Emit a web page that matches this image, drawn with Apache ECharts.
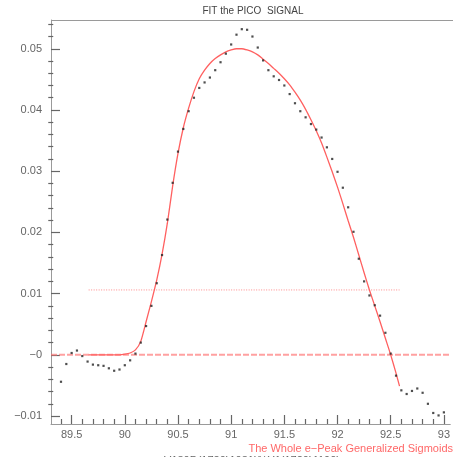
<!DOCTYPE html>
<html>
<head>
<meta charset="utf-8">
<script src="https://cdn.jsdelivr.net/npm/echarts@6/dist/echarts.min.js"></script>
<style>html,body{margin:0;padding:0;background:#fff;}#c{width:453px;height:457px;}</style>
</head>
<body>
<div id="c"></div>
<script>
// measured points (x in 0.05 steps)
const pointX = [89.40,89.45,89.50,89.55,89.60,89.65,89.70,89.75,89.80,89.85,89.90,89.95,90.00,90.05,90.10,90.15,
  90.20,90.25,90.30,90.35,90.40,90.45,90.50,90.55,90.60,90.65,90.70,90.75,90.80,90.85,90.90,90.95,91.00,91.05,91.10,91.15,
  91.20,91.25,91.30,91.35,91.40,91.45,91.50,91.55,91.60,91.65,91.70,91.75,91.80,91.85,91.90,91.95,92.00,
  92.05,92.10,92.15,92.20,92.25,92.30,92.35,92.40,92.45,92.50,92.55,92.60,92.65,92.70,92.75,92.80,92.85,92.90,92.95,93.00];
const pointY = [-0.0044,-0.0015,0.0003,0.0007,-0.0002,-0.0011,-0.0016,-0.0017,-0.0018,-0.0022,-0.0026,-0.0024,-0.0017,-0.0009,0.0002,0.0020,
  0.0047,0.0080,0.0117,0.0163,0.0221,0.0281,0.0332,0.0369,0.0398,0.0420,0.0436,0.0445,0.0453,0.0465,0.0478,0.0492,0.0507,0.0523,0.0532,0.0531,
  0.0520,0.0502,0.0481,0.0465,0.0455,0.0449,0.0440,0.0426,0.0411,0.0398,0.0388,0.0377,0.0368,0.0355,0.0339,0.0320,0.0299,
  0.0273,0.0241,0.0201,0.0157,0.0120,0.0097,0.0081,0.0064,0.0036,0.0002,-0.0034,-0.0058,-0.0064,-0.0059,-0.0055,-0.0062,-0.0080,-0.0095,-0.0099,-0.0094];

// fit curve
const fitX = [89.66,89.75,89.85,89.95,90.00,90.05,90.10,90.15,90.20,90.25,90.30,90.35,90.40,90.45,90.50,90.55,90.60,90.65,90.70,90.75,90.80,90.85,90.90,90.95,91.00,91.05,91.10,91.15,91.20,91.25,91.30,91.35,91.40,91.45,91.50,91.55,91.60,91.65,91.70,91.75,91.80,91.85,91.90,91.95,92.00,92.05,92.10,92.15,92.20,92.25,92.30,92.35,92.40,92.45,92.50,92.55,92.583];
const fitY = [0.0000,0.0000,0.0000,0.0000,0.0001,0.0003,0.0008,0.0022,0.0054,0.0087,0.0122,0.0164,0.0215,0.0276,0.0329,0.0371,0.0403,0.0430,0.0451,0.0465,0.0476,0.0484,0.0490,0.0495,0.0498,0.0500,0.0500,0.0498,0.0495,0.0490,0.0483,0.0476,0.0468,0.0460,0.0451,0.0441,0.0429,0.0416,0.0401,0.0384,0.0366,0.0346,0.0323,0.0299,0.0274,0.0247,0.0219,0.0192,0.0163,0.0134,0.0106,0.0080,0.0054,0.0027,0.0000,-0.0030,-0.0051];

const levelX = [89.66, 92.583];
const levelY = [0.0106, 0.0106];
const zeroX = [89.306, 93.06];
const zeroY = [0, 0];

const xMajorTicks = [89.5,90,90.5,91,91.5,92,92.5,93];
const xMinorTicks = [89.4,89.6,89.7,89.8,89.9,90.1,90.2,90.3,90.4,90.6,90.7,90.8,90.9,91.1,91.2,91.3,91.4,91.6,91.7,91.8,91.9,92.1,92.2,92.3,92.4,92.6,92.7,92.8,92.9];
const yMajorTicks = [-0.01,0,0.01,0.02,0.03,0.04,0.05];
const yMinorTicks = [-0.008,-0.006,-0.004,-0.002,0.002,0.004,0.006,0.008,0.012,0.014,0.016,0.018,0.022,0.024,0.026,0.028,0.032,0.034,0.036,0.038,0.042,0.044,0.046,0.048,0.052,0.054];

const X_MIN = 89.306, X_MAX = 93.06, Y_MIN = -0.0113, Y_MAX = 0.0547;
const axisGrey = '#9a9a9a';
const tickGrey = '#666666';
const labelFont = {color:'#666', fontFamily:'Liberation Sans', fontSize:11};

function zip(a,b){ return a.map((v,i)=>[v,b[i]]); }
function yFmt(v){
  const r = Math.round(v*100)/100;
  if (r === 0) return '\u22120';
  if (r < 0) return '\u2212' + String(-r);
  return String(r);
}

const chart = echarts.init(document.getElementById('c'));
chart.setOption({
  animation:false,
  grid:{left:51, top:20, right:0, bottom:33},
  xAxis:[
    {type:'value', min:X_MIN, max:X_MAX, position:'bottom',
     axisLine:{show:true, onZero:false, lineStyle:{color:axisGrey}},
     axisTick:{show:true, inside:true, length:9, customValues:xMajorTicks, lineStyle:{color:tickGrey, width:1.2}},
     axisLabel:{show:true, customValues:xMajorTicks, margin:5, formatter:v=>String(Math.round(v*10)/10), ...labelFont},
     splitLine:{show:false}},
    {type:'value', min:X_MIN, max:X_MAX, position:'top', offset:-404,
     axisLine:{show:false, onZero:false},
     axisTick:{show:true, inside:false, length:5, customValues:xMinorTicks, lineStyle:{color:tickGrey, width:1.2}},
     axisLabel:{show:false}, splitLine:{show:false}}
  ],
  yAxis:[
    {type:'value', min:Y_MIN, max:Y_MAX, position:'left',
     axisLine:{show:true, onZero:false, lineStyle:{color:axisGrey}},
     axisTick:{show:true, inside:true, length:9, customValues:yMajorTicks, lineStyle:{color:tickGrey, width:1.2}},
     axisLabel:{show:true, customValues:yMajorTicks, margin:9, formatter:yFmt, ...labelFont},
     splitLine:{show:false}},
    {type:'value', min:Y_MIN, max:Y_MAX, position:'right', offset:-402,
     axisLine:{show:false, onZero:false},
     axisTick:{show:true, inside:false, length:5, customValues:yMinorTicks, lineStyle:{color:tickGrey, width:1.2}},
     axisLabel:{show:false}, splitLine:{show:false}}
  ],
  series:[
    {type:'line', data:zip(zeroX,zeroY), showSymbol:false, symbol:'none',
     lineStyle:{color:'rgba(255,110,110,0.65)', width:2, type:[6,2]}, z:1},
    {type:'line', data:zip(levelX,levelY), showSymbol:false, symbol:'none',
     lineStyle:{color:'rgba(255,110,110,0.8)', width:1, type:[1,1.5]}, z:1},
    {type:'line', data:zip(fitX,fitY), showSymbol:false, symbol:'none', smooth:0.2,
     lineStyle:{color:'#ff6060', width:1.3}, z:2},
    {type:'scatter', data:zip(pointX,pointY), symbol:'rect', symbolSize:2.2,
     itemStyle:{color:'#222'}, z:3}
  ],
  graphic:[
    {type:'line', shape:{x1:51, y1:20.5, x2:453, y2:20.5}, style:{stroke:axisGrey, lineWidth:1}},
    {type:'text', x:253, y:11, style:{text:'FIT the PICO  SIGNAL', fill:'#444', font:'10px "Liberation Sans"', textAlign:'center', textVerticalAlign:'middle'}},
    {type:'text', x:453, y:449, style:{text:'The Whole e\u2212Peak Generalized Sigmoids', fill:'#ff6868', font:'11px "Liberation Sans"', textAlign:'right', textVerticalAlign:'middle'}},
    {type:'text', x:252, y:455, style:{text:'V180D(1720)1081)%Y1(1720)1190)', fill:'#666', font:'11px "Liberation Sans"', textAlign:'center', textVerticalAlign:'top'}}
  ]
});
</script>
</body>
</html>
